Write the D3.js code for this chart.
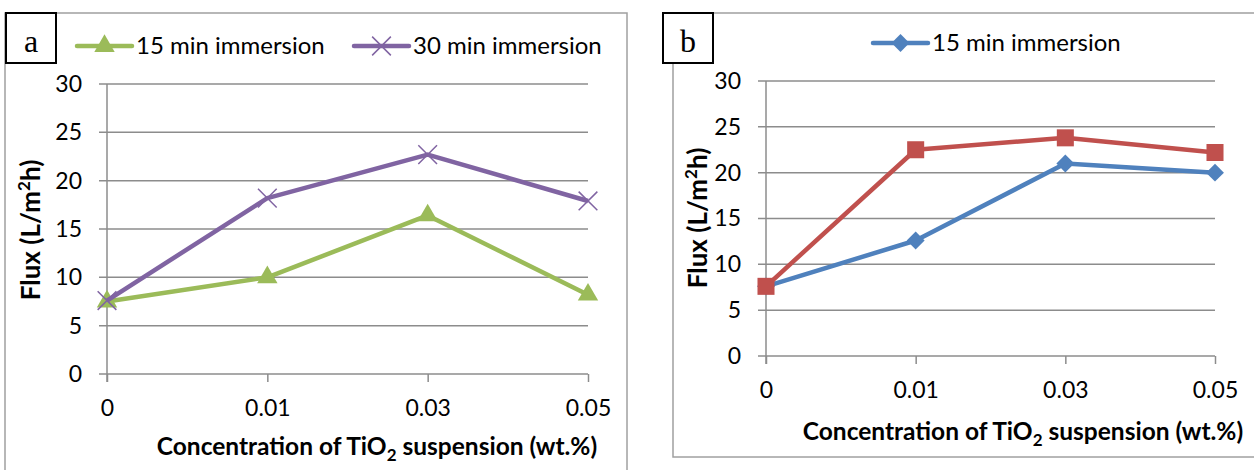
<!DOCTYPE html>
<html>
<head>
<meta charset="utf-8">
<script src="https://cdn.jsdelivr.net/npm/d3@7"></script>
<style>
  body { margin: 0; background: #fff; }
  svg { display: block; font-family: Lato, "Noto Sans", sans-serif; }
</style>
</head>
<body>
<div id="chart"></div>
<script>
// concentrations of TiO2 (wt.%) on the x axis
const categories = ['0', '0.01', '0.03', '0.05'];
const yTicks = [0, 5, 10, 15, 20, 25, 30];

// panel a
const fluxA15 = [7.5, 10.0, 16.4, 8.2];
const fluxA30 = [7.6, 18.2, 22.7, 17.9];

// panel b
const fluxB15 = [7.6, 12.6, 21.0, 20.0];
const fluxB30 = [7.6, 22.5, 23.8, 22.2];

const GRID = '#8c8c8c';
const FONT = 'Lato, "Noto Sans", sans-serif';

const svg = d3.select('#chart')
  .append('svg')
  .attr('width', 1254)
  .attr('height', 470);

const drawPanel = (opts) => {
  const g = svg.append('g');

  // outer frame
  g.append('rect')
    .attr('x', opts.frame[0])
    .attr('y', opts.frame[1])
    .attr('width', opts.frame[2])
    .attr('height', opts.frame[3])
    .attr('fill', 'none')
    .attr('stroke', '#a0a0a0')
    .attr('stroke-width', 1.5);

  const xScale = d3.scalePoint().domain(categories).range(opts.xRange);
  const yScale = d3.scaleLinear().domain([0, 30]).range(opts.yRange);

  // gridlines
  g.append('g')
    .selectAll('line')
    .data(yTicks)
    .enter()
    .append('line')
    .attr('x1', opts.xRange[0] - 8)
    .attr('x2', opts.xRange[1])
    .attr('y1', d => yScale(d))
    .attr('y2', d => yScale(d))
    .attr('stroke', GRID)
    .attr('stroke-width', 1.5);

  // y axis
  const yAxis = g.append('g')
    .attr('transform', `translate(${opts.xRange[0]}, 0)`)
    .call(d3.axisLeft(yScale).tickValues(yTicks).tickSize(8).tickPadding(17));
  yAxis.select('.domain').remove();
  yAxis.selectAll('line').remove();
  yAxis.selectAll('text')
    .attr('fill', '#000')
    .style('font-family', FONT)
    .style('font-size', '23px');
  g.append('line')
    .attr('x1', opts.xRange[0]).attr('x2', opts.xRange[0])
    .attr('y1', yScale(30)).attr('y2', yScale(0) + 8)
    .attr('stroke', GRID).attr('stroke-width', 1.5);

  // x axis
  const xAxis = g.append('g')
    .attr('transform', `translate(0, ${yScale(0)})`)
    .call(d3.axisBottom(xScale).tickSize(8).tickSizeOuter(0).tickPadding(18));
  xAxis.select('.domain').remove();
  xAxis.selectAll('line').attr('stroke', GRID).attr('stroke-width', 1.5);
  xAxis.selectAll('text')
    .attr('fill', '#000')
    .style('font-family', FONT)
    .style('font-size', '23px');

  // axis titles
  const xt = g.append('text')
    .attr('x', opts.xTitle[0])
    .attr('y', opts.xTitle[1])
    .attr('text-anchor', 'middle')
    .style('font-size', '24.5px')
    .style('font-weight', 'bold');
  xt.append('tspan').text('Concentration of TiO');
  xt.append('tspan').text('2').attr('dy', 6).style('font-size', '17px');
  xt.append('tspan').text(' suspension (wt.%)').attr('dy', -6);

  const yt = g.append('text')
    .attr('transform', `translate(${opts.yTitle[0]}, ${opts.yTitle[1]}) rotate(-90)`)
    .attr('text-anchor', 'middle')
    .style('font-size', '26px')
    .style('font-weight', 'bold');
  yt.append('tspan').text('Flux (L/m');
  yt.append('tspan').text('2').attr('dy', -10).style('font-size', '17px');
  yt.append('tspan').text('h)').attr('dy', 10);

  const line = d3.line()
    .x((d, i) => xScale(categories[i]))
    .y(d => yScale(d));

  const marker = (sel, s) => sel
    .attr('d', d3.symbol().type(s.symbol).size(s.size))
    .attr('fill', s.stroke ? 'none' : s.color)
    .attr('stroke', s.color)
    .attr('stroke-width', s.stroke ? 1.5 : 0);

  opts.series.forEach(s => {
    g.append('path')
      .datum(s.values)
      .attr('d', line)
      .attr('fill', 'none')
      .attr('stroke', s.color)
      .attr('stroke-width', 4.5)
      .attr('stroke-linejoin', 'round');

    g.selectAll(null)
      .data(s.values)
      .enter()
      .append('path')
      .attr('transform', (d, i) =>
        `translate(${xScale(categories[i])}, ${yScale(d)}) rotate(${s.rotate || 0})`)
      .call(marker, s);
  });

  // legend
  opts.legend.forEach(l => {
    const s = opts.series[l.index];
    g.append('line')
      .attr('x1', l.x).attr('x2', l.x + 55)
      .attr('y1', l.y).attr('y2', l.y)
      .attr('stroke', s.color)
      .attr('stroke-width', 4.5)
      .attr('stroke-linecap', 'round');
    g.append('path')
      .attr('transform', `translate(${l.x + 27.5}, ${l.y}) rotate(${s.rotate || 0})`)
      .call(marker, s);
    g.append('text')
      .attr('x', l.x + 59)
      .attr('y', l.y + 8)
      .style('font-size', '24px')
      .text(s.name);
  });

  // panel letter
  g.append('rect')
    .attr('x', opts.letterBox[0])
    .attr('y', opts.letterBox[1])
    .attr('width', 50)
    .attr('height', 50)
    .attr('fill', '#fff')
    .attr('stroke', '#000')
    .attr('stroke-width', 2);
  g.append('text')
    .attr('x', opts.letterBox[0] + 25)
    .attr('y', opts.letterBox[1] + 39)
    .attr('text-anchor', 'middle')
    .style('font-family', '"Liberation Serif", "DejaVu Serif", serif')
    .style('font-size', '32px')
    .text(opts.letter);
};

drawPanel({
  frame: [5, 13, 622, 480],
  letterBox: [6, 13],
  letter: 'a',
  xRange: [107, 588],
  yRange: [374, 84],
  xTitle: [377, 455],
  yTitle: [40, 230],
  series: [
    { name: '15 min immersion', values: fluxA15, color: '#9bbb59', symbol: d3.symbolTriangle, size: 180 },
    { name: '30 min immersion', values: fluxA30, color: '#8064a2', symbol: d3.symbolTimes, size: 230, stroke: true }
  ],
  legend: [
    { index: 0, x: 77, y: 46 },
    { index: 1, x: 354, y: 46 }
  ]
});

drawPanel({
  frame: [673, 13, 620, 444],
  letterBox: [663, 13],
  letter: 'b',
  xRange: [766, 1215],
  yRange: [356, 81],
  xTitle: [1023, 440],
  yTitle: [707, 218],
  series: [
    { name: '15 min immersion', values: fluxB15, color: '#4f81bd', symbol: d3.symbolSquare, size: 160, rotate: 45 },
    { name: '30 min immersion', values: fluxB30, color: '#c0504d', symbol: d3.symbolSquare, size: 290 }
  ],
  legend: [
    { index: 0, x: 873, y: 43 }
  ]
});
</script>
</body>
</html>
